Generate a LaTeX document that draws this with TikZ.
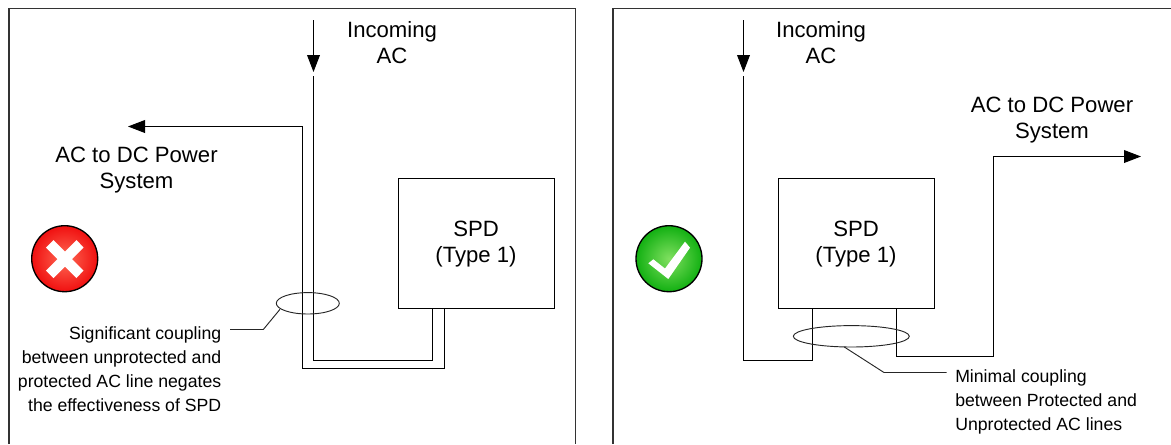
\documentclass[tikz,border=0pt]{standalone}
\usepackage{fontspec}
\setmainfont{Liberation Sans}
\usetikzlibrary{arrows.meta}
\definecolor{framegray}{gray}{0.2}
\definecolor{redin}{HTML}{FF6A55}
\definecolor{redout}{HTML}{F01010}
\definecolor{greenin}{HTML}{80E060}
\definecolor{greenout}{HTML}{12B012}
\tikzset{
  wire/.style={draw=black,line width=0.75pt,line join=miter},
  wirearrow/.style={wire,-{Triangle[length=12.75pt,width=9.6pt]}},
  frameline/.style={draw=framegray,line width=0.8pt},
  spdbox/.style={draw=black,line width=0.75pt,minimum width=116.8pt,minimum height=97.8pt,inner sep=0pt,anchor=north west},
  biglabel/.style={font=\fontsize{16.6}{19.5}\selectfont,align=center,inner sep=0pt},
  smalllabel/.style={font=\fontsize{13.25}{18}\selectfont,inner sep=0pt},
  boxtext/.style={font=\fontsize{16.6}{20}\selectfont,align=center},
  couple/.style={draw=black!85,line width=0.7pt,fill=none},
  leader/.style={draw=black!85,line width=0.7pt},
  badge/.style={circle,draw=black,line width=1pt,minimum size=49.5pt,inner sep=0pt},
}
\begin{document}
\begin{tikzpicture}[x=0.75pt,y=-0.75pt]
\useasboundingbox (0,0) rectangle (1171,444);
% frames
\coordinate (fa1) at (9,444); \coordinate (fa2) at (9,8.5); \coordinate (fa3) at (575.5,8.5); \coordinate (fa4) at (575.5,444);
\coordinate (fb1) at (613,444); \coordinate (fb2) at (613,8.5); \coordinate (fb3) at (1171,8.5);
\draw[frameline] (fa1) -- (fa2) -- (fa3) -- (fa4);
\draw[frameline] (fb1) -- (fb2) -- (fb3);
% boxes
\node[spdbox] (spdA) at (398,178) {};
\node[spdbox] (spdB) at (778,178) {};
\node[boxtext] (spdAtext) at (476,244) {SPD\\(Type 1)};
\node[boxtext] (spdBtext) at (856,244) {SPD\\(Type 1)};
% left diagram wiring
\coordinate (a0) at (313.5,20); \coordinate (a1) at (313.5,72); \coordinate (a2) at (313.5,76);
\coordinate (a3) at (313.5,360.5); \coordinate (a4) at (432.5,360.5);
\coordinate (a5) at (444.5,368.5); \coordinate (a6) at (302.5,368.5); \coordinate (a7) at (302.5,126.5); \coordinate (a8) at (128,126.5);
\draw[wirearrow] (a0) -- (a1);
\draw[wire] (a2) -- (a3) -- (a4) -- (a4 |- spdA.south);
\draw[wirearrow] (a5 |- spdA.south) -- (a5) -- (a6) -- (a7) -- (a8);
% right diagram wiring
\coordinate (b0) at (743.5,20); \coordinate (b1) at (743.5,72); \coordinate (b2) at (743.5,76);
\coordinate (b3) at (743.5,360.5); \coordinate (b4) at (812.5,360.5);
\coordinate (b5) at (896.5,356.5); \coordinate (b6) at (993.5,356.5); \coordinate (b7) at (993.5,156.5); \coordinate (b8) at (1141,156.5);
\draw[wirearrow] (b0) -- (b1);
\draw[wire] (b2) -- (b3) -- (b4) -- (b4 |- spdB.south);
\draw[wirearrow] (b5 |- spdB.south) -- (b5) -- (b6) -- (b7) -- (b8);
% labels
\node[biglabel] (inA) at (392,42.5) {Incoming\\AC};
\node[biglabel] (inB) at (821,42.5) {Incoming\\AC};
\node[biglabel] (outA) at (136.5,170) {AC to DC Power\\System};
\node[biglabel] (outB) at (1052,120) {AC to DC Power\\System};
% coupling ellipses
\draw[couple] (307.8,303.3) ellipse [x radius=31.5,y radius=10.7];
\draw[couple] (851.3,336.3) ellipse [x radius=58,y radius=10.7];
\coordinate (la0) at (280,309.3); \coordinate (la1) at (263.3,329.5); \coordinate (la2) at (230,329.5);
\coordinate (lb0) at (844.3,347); \coordinate (lb1) at (884,372.5); \coordinate (lb2) at (946.7,372.5);
\draw[leader] (la0) -- (la1) -- (la2);
\draw[leader] (lb0) -- (lb1) -- (lb2);
% notes
\node[smalllabel,align=right,anchor=east] (noteA) at (221.5,369.5) {Significant coupling\\between unprotected and\\protected AC line negates\\the effectiveness of SPD};
\node[smalllabel,align=left,anchor=west] (noteB) at (955,402) {Minimal coupling\\between Protected and\\Unprotected AC lines};
% badges
\node[badge,inner color=redin,outer color=redout] (bad) at (64.7,258.7) {};
\fill[white] (53.5,240) -- (65,251.5) -- (76.5,240) -- (83.5,247.5) -- (72,259) -- (83.5,270.5) -- (76.5,278) -- (65,266.5) -- (53.5,278) -- (46,270.5) -- (57.5,259) -- (46,247.5) -- cycle;
\node[badge,inner color=greenin,outer color=greenout] (good) at (669,258.7) {};
\fill[white] (648.3,263.3) -- (653.3,259.3) -- (665,268.5) -- (685,241.7) -- (690,247.7) -- (668.3,279) -- cycle;
\end{tikzpicture}
\end{document}
